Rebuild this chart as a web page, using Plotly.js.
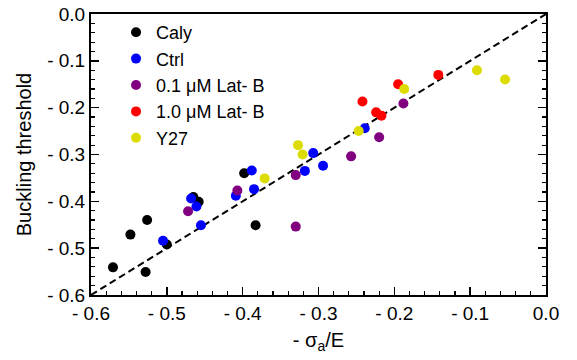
<!DOCTYPE html>
<html>
<head>
<meta charset="utf-8">
<script src="https://cdn.plot.ly/plotly-3.0.1.min.js"></script>
<style>html,body{margin:0;padding:0;background:#fff;}#chart{width:577px;height:360px;}</style>
</head>
<body>
<div id="chart"></div>
<script>
// Data (x = -sigma_a/E, y = buckling threshold)
const calyX = [-0.571, -0.548, -0.526, -0.528, -0.500, -0.465, -0.458, -0.398, -0.383];
const calyY = [-0.541, -0.471, -0.440, -0.551, -0.492, -0.391, -0.401, -0.340, -0.451];

const ctrlX = [-0.505, -0.468, -0.461, -0.455, -0.388, -0.409, -0.385, -0.307, -0.318, -0.294, -0.239];
const ctrlY = [-0.484, -0.394, -0.411, -0.451, -0.334, -0.388, -0.374, -0.297, -0.335, -0.324, -0.244];

const lat01X = [-0.472, -0.407, -0.330, -0.330, -0.257, -0.220, -0.188];
const lat01Y = [-0.421, -0.377, -0.454, -0.344, -0.304, -0.263, -0.191];

const lat10X = [-0.242, -0.224, -0.217, -0.195, -0.142];
const lat10Y = [-0.187, -0.210, -0.217, -0.150, -0.130];

const y27X = [-0.371, -0.327, -0.321, -0.247, -0.187, -0.091, -0.054];
const y27Y = [-0.351, -0.280, -0.300, -0.250, -0.160, -0.120, -0.140];

const identityX = [-0.6, 0.0];
const identityY = [-0.6, 0.0];

const xTickVals = [-0.6, -0.5, -0.4, -0.3, -0.2, -0.1, 0.0];
const xTickText = ['- 0.6', '- 0.5', '- 0.4', '- 0.3', '- 0.2', '- 0.1', '0.0'];
const yTickVals = [0.0, -0.1, -0.2, -0.3, -0.4, -0.5, -0.6];
const yTickText = ['0.0', '- 0.1', '- 0.2', '- 0.3', '- 0.4', '- 0.5', '- 0.6'];

const FONT = 'Liberation Sans, Arial, sans-serif';

function pts(name, x, y, color) {
  return {type: 'scatter', mode: 'markers', name: name, x: x, y: y,
    marker: {color: color, size: 10, line: {width: 0}}, cliponaxis: false};
}

const traces = [
  {type: 'scatter', mode: 'lines', x: identityX, y: identityY, showlegend: false,
   line: {color: 'black', width: 2, dash: '7px,4px'}, hoverinfo: 'skip'},
  pts('Caly', calyX, calyY, '#000000'),
  pts('Ctrl', ctrlX, ctrlY, '#0000ff'),
  pts('0.1 μM Lat- B', lat01X, lat01Y, '#800080'),
  pts('1.0 μM Lat- B', lat10X, lat10Y, '#ff0000'),
  pts('Y27', y27X, y27Y, '#dcdc00')
];

const layout = {
  width: 577, height: 360,
  margin: {l: 91, r: 31, t: 14, b: 65},
  paper_bgcolor: '#fff', plot_bgcolor: '#fff',
  font: {family: FONT, color: '#000', size: 19},
  showlegend: true,
  legend: {x: 0.055, y: 1.0, xanchor: 'left', yanchor: 'top', bgcolor: 'rgba(0,0,0,0)',
    font: {size: 18, family: FONT}, tracegroupgap: 0},
  xaxis: {
    range: [-0.6, 0.0], showgrid: false, zeroline: false,
    showline: true, linecolor: '#000', linewidth: 2, mirror: true,
    ticks: 'inside', ticklen: 8, tickwidth: 1.5, tickcolor: '#000',
    tickmode: 'array', tickvals: xTickVals, ticktext: xTickText,
    tickfont: {size: 19, family: FONT},
    minor: {tickmode: 'linear', tick0: 0, dtick: 0.02, ticks: 'inside', ticklen: 4, tickwidth: 1.2, tickcolor: '#000', showgrid: false},
    title: {text: '- σ<sub>a</sub>/E', font: {size: 20, family: FONT}, standoff: 10}
  },
  yaxis: {
    range: [-0.6, 0.0], showgrid: false, zeroline: false,
    showline: true, linecolor: '#000', linewidth: 2, mirror: 'allticks',
    ticks: 'inside', ticklen: 8, tickwidth: 1.5, tickcolor: '#000',
    tickmode: 'array', tickvals: yTickVals, ticktext: yTickText,
    tickfont: {size: 19, family: FONT},
    minor: {tickmode: 'linear', tick0: 0, dtick: 0.02, ticks: 'inside', ticklen: 4, tickwidth: 1.2, tickcolor: '#000', showgrid: false},
    title: {text: 'Buckling threshold', font: {size: 20, family: FONT}, standoff: 10}
  }
};

Plotly.newPlot('chart', traces, layout, {displayModeBar: false, staticPlot: true});
</script>
</body>
</html>
